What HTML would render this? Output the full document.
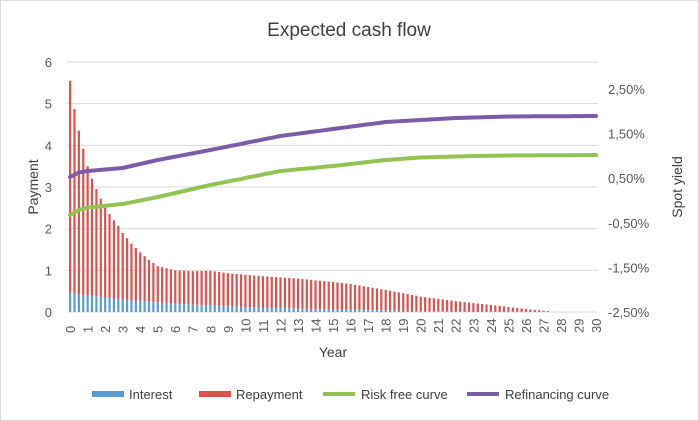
<!DOCTYPE html>
<html><head><meta charset="utf-8"><style>
body{margin:0;background:#fff;}
svg{display:block;font-family:"Liberation Sans",sans-serif;}
</style></head><body>
<svg id="s" width="699" height="421" viewBox="0 0 699 421">
<rect x="0.5" y="0.5" width="698" height="420" fill="#fff" stroke="#d9d9d9"/>
<text x="349" y="36" font-size="19" fill="#404040" text-anchor="middle">Expected cash flow</text>
<g id="grid" stroke="#d9d9d9" stroke-width="1"></g>
<g id="bars"></g>
<g id="lines"></g>
<g font-size="13" fill="#595959" id="lbl"></g>
<text transform="translate(38,187) rotate(-90)" font-size="14" fill="#404040" text-anchor="middle">Payment</text>
<text transform="translate(682,187) rotate(-90)" font-size="14" fill="#404040" text-anchor="middle">Spot yield</text>
<text x="333" y="357" font-size="14" fill="#404040" text-anchor="middle">Year</text>
<g font-size="13" fill="#404040">
<rect x="92" y="391" width="32" height="6" fill="#5b9bd5"/><text x="129" y="399">Interest</text>
<rect x="199" y="391" width="32" height="6" fill="#d9534f"/><text x="236" y="399">Repayment</text>
<line x1="323" y1="394" x2="355" y2="394" stroke="#92c353" stroke-width="4"/><text x="361" y="399">Risk free curve</text>
<line x1="467" y1="394" x2="499" y2="394" stroke="#7c5ca8" stroke-width="4"/><text x="505" y="399">Refinancing curve</text>
</g>
</svg>
<script>
const NS="http://www.w3.org/2000/svg";
function el(p,t,a,txt){const e=document.createElementNS(NS,t);for(const k in a)e.setAttribute(k,a[k]);if(txt!==undefined)e.textContent=txt;document.getElementById(p).appendChild(e);return e;}
const X=y=>70+y*(526/30), Y=v=>312-v*41.67;
for(let i=0;i<=6;i++){el("grid","line",{x1:67,x2:598,y1:Y(i),y2:Y(i)});
 el("lbl","text",{x:52,y:Y(i)+5,"text-anchor":"end"},i);}
const pc=["2,50%","1,50%","0,50%","-0,50%","-1,50%","-2,50%"];
for(let i=0;i<6;i++){el("lbl","text",{x:608,y:89+i*44.6+5},pc[i]);}
for(let y=0;y<=30;y++){el("lbl","text",{transform:`translate(${X(y)+5},${333}) rotate(-90)`},y);}
function interp(pts,x){for(let i=0;i<pts.length-1;i++){const [a,b]=pts[i],[c,d]=pts[i+1];if(x>=a&&x<=c)return b+(d-b)*(x-a)/(c-a);}return pts[pts.length-1][1];}
const rep=[[0,5.55],[0.25,4.87],[0.5,4.35],[0.75,3.92],[1,3.5],[1.25,3.2],[1.5,2.95],[1.75,2.72],[2,2.5],[2.25,2.35],[2.5,2.2],[2.75,2.07],[3,1.9],[3.5,1.64],[4,1.43],[4.5,1.25],[5,1.1],[5.5,1.05],[6,1.0],[7,0.98],[8,0.99],[9,0.93],[11,0.86],[13,0.8],[15,0.72],[16,0.67],[18,0.53],[20,0.37],[22,0.26],[24,0.17],[26,0.07],[27.25,0.02],[27.5,0]];
const int=[[0,0.45],[1,0.4],[3,0.3],[6,0.2],[10,0.12],[15,0.06],[20,0.02],[27.5,0]];
for(let q=0;q<=110;q++){const t=q/4;const tot=interp(rep,t),iv=Math.min(interp(int,t),tot);if(tot<=0)continue;const x=X(t)-1;
 el("bars","rect",{x:x,y:Y(tot),width:2.2,height:(tot-iv)*41.67,fill:"#d9534f"});
 el("bars","rect",{x:x,y:Y(iv),width:2.2,height:iv*41.67,fill:"#5b9bd5"});}
const g=[[0,215],[0.5,210],[1,207.5],[3,204],[5,197],[8,185],[10,178],[12,171],[15,166],[18,160],[20,157.5],[23,156],[25,155.5],[30,155]];
const p=[[0,177],[0.5,172.5],[1,171],[3,168],[5,160],[8,150],[10,143],[12,136],[15,129],[18,122],[20,120],[22,118],[25,116.5],[30,116]];
function path(pts,c){let d="";for(let t=0;t<=30;t+=0.25)d+=(t?"L":"M")+X(t).toFixed(1)+","+interp(pts,t).toFixed(1);el("lines","path",{d:d,fill:"none",stroke:c,"stroke-width":4,"stroke-linejoin":"round","stroke-linecap":"round"});}
path(g,"#92c353");path(p,"#7c5ca8");
</script>
</body></html>
